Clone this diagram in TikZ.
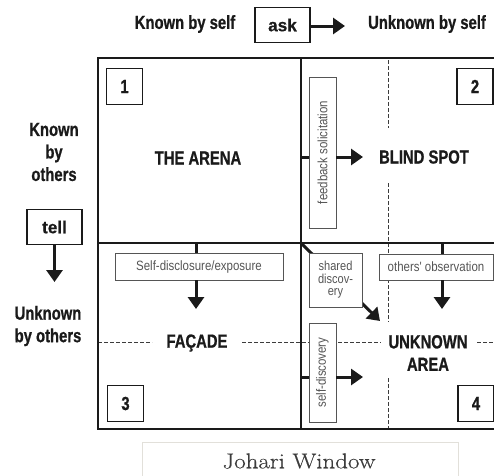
\documentclass[tikz,border=0pt]{standalone}
\usepackage{fontspec}
\usetikzlibrary{arrows.meta}
\newfontfamily\hdfont{Liberation Sans}[FakeStretch=0.78,FakeBold=0.8]
\newfontfamily\tagfont{Liberation Sans}[FakeStretch=0.98,FakeBold=0.6]
\newfontfamily\smfont{Liberation Sans}[FakeStretch=0.85]
\newfontfamily\capfont{Latin Modern Roman}[FakeStretch=1.16,FakeBold=0.4]
\definecolor{ink}{HTML}{1A1A1A}
\definecolor{boxgray}{HTML}{555555}
\definecolor{capline}{HTML}{E2E0DA}

\begin{document}
\begin{tikzpicture}[x=1pt,y=-1pt,
  grid/.style={line width=2.5pt, draw=ink},
  guide/.style={draw=ink!85, line width=0.9pt, dash pattern=on 3.5pt off 2.5pt},
  head/.style={font=\hdfont\bfseries\fontsize{19}{22.5}\selectfont, text=ink, inner sep=0pt, align=center},
  numbox/.style={draw=ink, line width=1.9pt, minimum width=36pt, minimum height=36pt, inner sep=0pt, text=ink,
    font=\hdfont\bfseries\fontsize{19}{20}\selectfont},
  tagbox/.style={draw=ink, line width=1.2pt, minimum width=55pt, minimum height=35pt, inner sep=0pt, text=ink,
    font=\tagfont\bfseries\fontsize{17.5}{20}\selectfont},
  notebox/.style={draw=boxgray, line width=0.9pt, fill=white, inner sep=0pt, text=boxgray, align=center,
    font=\smfont\fontsize{13.5}{13}\selectfont},
  stub/.style={line width=3pt, draw=ink},
  push/.style={line width=3pt, draw=ink, -{Triangle[length=12pt,width=16pt]}},
]
\useasboundingbox (0,0) rectangle (494,475);

% frame corners and dividing lines
\coordinate (tl) at (98,58);
\coordinate (bl) at (98,429);
\coordinate (tr) at (497,58);
\coordinate (br) at (497,429);
\coordinate (mt) at (301,58);
\coordinate (mb) at (301,429);
\coordinate (ml) at (98,243);
\coordinate (mr) at (497,243);
\coordinate (c)  at (301,243);

% dashed guides of the inner split
\draw[guide] (98,342) -- (152,342);
\draw[guide] (242,342) -- (381,342);
\draw[guide] (477,342) -- (497,342);
\draw[guide] (388,60) -- (388,128);
\draw[guide] (388,183) -- (388,322);
\draw[guide] (388,378) -- (388,428);

% window frame
\draw[grid] (tr) -- (tl) -- (bl) -- (br);
\draw[grid] (mt) -- (mb);
\draw[grid] (ml) -- (mr);

% column headings
\node[head] (kself) at (185,24) {Known by self};
\node[tagbox] (ask) at (282.5,25) {ask};
\coordinate (asktip) at (345,26);
\draw[push] (ask.east |- asktip) -- (asktip);
\node[head] (uself) at (427,24) {Unknown by self};

% row headings
\node[head] (kothers) at (54,152) {Known\\by\\others};
\node[tagbox] (tell) at (54.5,227) {tell};
\coordinate (telltip) at (54.5,282);
\draw[push] (tell.south) -- (telltip);
\node[head] (uothers) at (48,326) {Unknown\\by others};

% quadrant numbers
\node[numbox] (n1) at (124.5,86.5) {1};
\node[numbox] (n2) at (475,86.5) {2};
\node[numbox] (n3) at (125.5,403.5) {3};
\node[numbox] (n4) at (476,403.5) {4};

% quadrant names
\node[head] (arena) at (198,158) {THE ARENA};
\node[head] (blind) at (424,157) {BLIND SPOT};
\node[head] (facade) at (197,343) {FAÇADE};
\node[head] (unknown) at (428,353) {UNKNOWN\\AREA};

% feedback solicitation
\node[notebox, rotate=90, minimum width=151pt, minimum height=27pt] (fb) at (322.5,152.5) {feedback solicitation};
\coordinate (fbin) at (301,157);
\coordinate (fbtip) at (363,157);
\draw[stub] (fbin) -- (fbin -| fb.north);
\draw[push] (fbin -| fb.south) -- (fbtip);

% self-disclosure
\node[notebox, minimum width=168pt, minimum height=27pt] (sd) at (199,266.5) {Self-disclosure/exposure};
\coordinate (sdin) at (196,243);
\coordinate (sdtip) at (196,309);
\draw[stub] (sdin) -- (sdin |- sd.north);
\draw[push] (sdin |- sd.south) -- (sdtip);

% others' observation
\node[notebox, minimum width=114pt, minimum height=26pt] (oo) at (436,267) {others' observation};
\coordinate (ooin) at (442,243);
\coordinate (ootip) at (442,309);
\draw[stub] (ooin) -- (ooin |- oo.north);
\draw[push] (ooin |- oo.south) -- (ootip);

% shared discovery
\coordinate (shtip) at (380,321);
\draw[push] (c) -- (shtip);
\node[notebox, minimum width=53pt, minimum height=54pt, font=\smfont\fontsize{13}{12.5}\selectfont] (sh) at (335.5,280) {shared\\discov-\\ery};

% self-discovery
\node[notebox, rotate=90, minimum width=99pt, minimum height=27pt] (sdis) at (322.5,372.5) {self-discovery};
\coordinate (sdisin) at (301,377);
\coordinate (sdistip) at (363,377);
\draw[stub] (sdisin) -- (sdisin -| sdis.north);
\draw[push] (sdisin -| sdis.south) -- (sdistip);

% caption
\node[text=ink!85, font=\capfont\fontsize{21.5}{23}\selectfont] (cap) at (299,461) {Johari Window};
\draw[capline, line width=0.8pt] (142,478) -- (142,442) -- (458,442) -- (458,478);
\end{tikzpicture}
\end{document}
